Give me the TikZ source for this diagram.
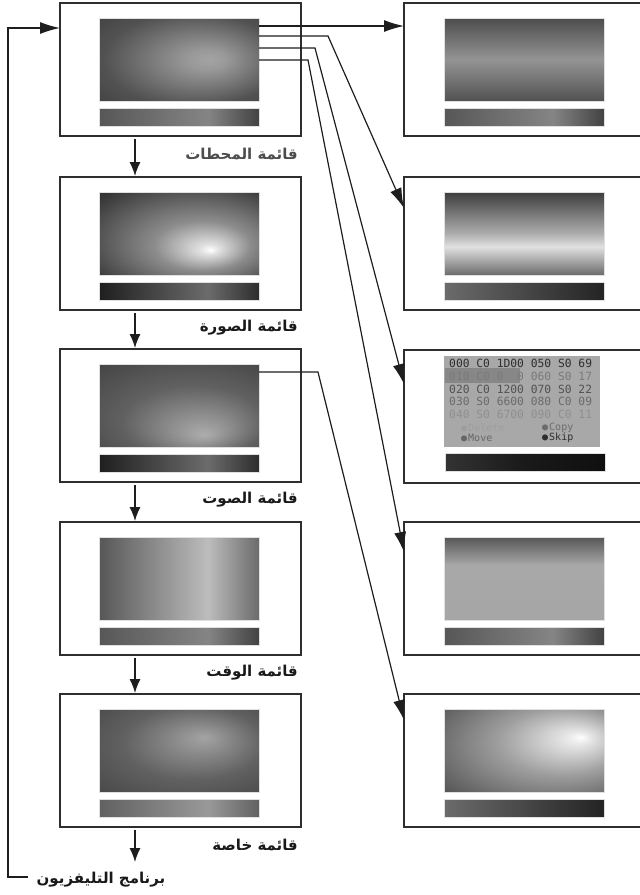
\documentclass[tikz,border=0pt]{standalone}
\usepackage{fontspec}
\usepackage{tikz}
\usetikzlibrary{arrows.meta,calc,positioning}
\TeXXeTstate=1
\newfontfamily\arabicfont[Script=Arabic]{DejaVu Sans}
\newfontfamily\monofont{DejaVu Sans Mono}

\definecolor{edge}{HTML}{2E2E2E}
\definecolor{wire}{HTML}{1E1E1E}

% screen shadings (the path covers the middle 50bp of each shading)
\pgfdeclareradialshading{glowA}{\pgfpoint{10bp}{0bp}}{color(0bp)=(black!36); color(6bp)=(black!40); color(28bp)=(black!68); color(50bp)=(black!80)}
\pgfdeclareradialshading{glowB}{\pgfpoint{10bp}{-10bp}}{color(0bp)=(white); color(3bp)=(black!12); color(15bp)=(black!45); color(38bp)=(black!80); color(55bp)=(black!82)}
\pgfdeclareradialshading{glowC}{\pgfpoint{8bp}{-18bp}}{color(0bp)=(black!32); color(22bp)=(black!62); color(50bp)=(black!80)}
\pgfdeclarehorizontalshading{bandD}{100bp}{color(0bp)=(black!66); color(25bp)=(black!66); color(59bp)=(black!26); color(75bp)=(black!58); color(100bp)=(black!58)}
\pgfdeclareradialshading{glowE}{\pgfpoint{8bp}{8bp}}{color(0bp)=(black!36); color(22bp)=(black!62); color(50bp)=(black!78)}
\pgfdeclareverticalshading{bandT}{100bp}{color(0bp)=(black!68); color(25bp)=(black!68); color(50bp)=(black!42); color(75bp)=(black!70); color(100bp)=(black!70)}
\pgfdeclareverticalshading{bandF}{100bp}{color(0bp)=(black!58); color(25bp)=(black!58); color(42bp)=(black!12); color(50bp)=(black!32); color(75bp)=(black!76); color(100bp)=(black!76)}
\pgfdeclareverticalshading{flatG}{100bp}{color(0bp)=(black!36); color(58bp)=(black!34); color(75bp)=(black!66); color(100bp)=(black!66)}
\pgfdeclareradialshading{glowH}{\pgfpoint{18bp}{8bp}}{color(0bp)=(white); color(3bp)=(black!8); color(20bp)=(black!38); color(45bp)=(black!72); color(60bp)=(black!75)}
% strip shadings
\pgfdeclarehorizontalshading{stripA}{100bp}{color(0bp)=(black!66); color(25bp)=(black!66); color(59bp)=(black!48); color(75bp)=(black!74); color(100bp)=(black!74)}
\pgfdeclarehorizontalshading{stripB}{100bp}{color(0bp)=(black!88); color(25bp)=(black!88); color(59bp)=(black!58); color(75bp)=(black!82); color(100bp)=(black!82)}
\pgfdeclarehorizontalshading{stripL}{100bp}{color(0bp)=(black!62); color(25bp)=(black!62); color(59bp)=(black!40); color(75bp)=(black!62); color(100bp)=(black!62)}
\pgfdeclarehorizontalshading{stripC}{100bp}{color(0bp)=(black!58); color(25bp)=(black!58); color(75bp)=(black!86); color(100bp)=(black!86)}
\pgfdeclarehorizontalshading{stripD}{100bp}{color(0bp)=(black!80); color(25bp)=(black!80); color(50bp)=(black!90); color(75bp)=(black!94); color(100bp)=(black!94)}

\tikzset{
  panel/.style={draw=edge, line width=1.5pt, fill=white, minimum width=241pt,
    minimum height=133pt, inner sep=0pt, outer sep=0pt, anchor=north west},
  screen/.style={shade, draw=black!12, line width=0.4pt, minimum width=160pt,
    minimum height=83pt, inner sep=0pt, outer sep=0pt, anchor=north west},
  strip/.style={screen, minimum height=18pt},
  menu/.style={font=\arabicfont\bfseries\fontsize{15}{16}\selectfont, anchor=east, inner sep=1pt},
  row/.style={font=\monofont\fontsize{11.3}{12}\selectfont, anchor=west, inner sep=0pt},
  key/.style={font=\monofont\fontsize{10}{11}\selectfont, anchor=west, inner sep=0pt},
  wire/.style={draw=wire, line width=1.2pt, -{Latex[length=20pt,width=12pt]}},
  drop/.style={wire, -{Latex[length=14pt,width=11pt]}}
}

\begin{document}
\begin{tikzpicture}[x=1pt,y=-1pt]
\useasboundingbox (0,0) rectangle (640,895);
\clip (0,0) rectangle (640,895);

% left column: the menus
\foreach \i/\y/\sh/\st/\c/\txt in {1/3/glowA/stripA/black!70/قائمة المحطات,
  2/177/glowB/stripB/black!90/قائمة الصورة,
  3/349/glowC/stripB/black!90/قائمة الصوت,
  4/522/bandD/stripA/black!90/قائمة الوقت,
  5/694/glowE/stripL/black!90/قائمة خاصة}{
\node[panel] (L\i) at (60,\y) {};
\node[screen, shading=\sh] (S\i) at ($(L\i.north west)+(39,15)$) {};
\node[strip, shading=\st] (B\i) at ($(L\i.north west)+(39,105)$) {};
\node[menu, text=\c] (M\i) at ($(L\i.south east)+(-2,18)$) {\beginR\txt\endR};
}
\foreach \i [count=\j from 2] in {1,...,4}
  \draw[drop] ($(L\i.south west)+(75,3)$) -- ($(L\j.north west)+(75,-1)$);

% right column: the sub menus
\foreach \i/\y in {1/3,2/177,3/350,4/522,5/694}
  \node[panel, minimum width=245pt] (R\i) at (404,\y) {};
\foreach \i/\sh/\st in {1/bandT/stripA,2/bandF/stripC,4/flatG/stripA,5/glowH/stripC}{
\node[screen, shading=\sh] (T\i) at ($(R\i.north west)+(40,15)$) {};
\node[strip, shading=\st] (U\i) at ($(R\i.north west)+(40,105)$) {};
}

% channel table
\node[fill=black!34, minimum width=156pt, minimum height=91pt, inner sep=0pt, anchor=north west] (T3) at ($(R3.north west)+(40,6)$) {};
\node[fill=black!47, minimum width=75pt, minimum height=15pt, inner sep=0pt, anchor=north west] (hl) at ($(T3.north west)+(1,12)$) {};
\node[strip, shading=stripD] (U3) at ($(R3.north west)+(41,103)$) {};
\foreach \r/\yy/\c/\t in {1/363/black!82/{000 C0 1D00 050 S0 69},
  2/376/black!52/{010 C0 0\phantom{00}0 060 S0 17},
  3/389/black!68/{020 C0 1200 070 S0 22},
  4/401/black!58/{030 S0 6600 080 C0 09},
  5/414/black!44/{040 S0 6700 090 C0 11}}
  \node[row, text=\c] (row\r) at (449,\yy) {\t};
\node[key, text=black!38] (del) at (461,428) {●\kern1pt Delete};
\node[key, text=black!58] (cpy) at (542,428) {●\kern1pt Copy};
\node[key, text=black!60] (mov) at (461,438) {●\kern1pt Move};
\node[key, text=black!82] (skp) at (542,438) {●\kern1pt Skip};

% links to the sub menus
\draw[wire] ($(S1.north east)+(0,8)$) -- ($(R1.north west)+(0,23)$);
\draw[wire] ($(S1.north east)+(0,18)$) -- ++(69,0) -- ($(R2.north west)+(0,31)$);
\draw[wire] ($(S1.north east)+(0,30)$) -- ++(56,0) -- ($(R3.north west)+(0,34)$);
\draw[wire] ($(S1.north east)+(0,42)$) -- ++(49,0) -- ($(R4.north west)+(0,30)$);
\draw[wire] ($(S3.north east)+(0,8)$) -- ++(59,0) -- ($(R5.north west)+(0,26)$);

% back to the programme
\node[menu, anchor=center, text=black!90] (tv) at (101,880) {\beginR برنامج التليفزيون\endR};
\coordinate (tvtop) at (135,862);
\coordinate (back) at (8,28);
\draw[drop] ($(L5.south west)+(75,3)$) -- (tvtop);
\draw[wire] ([xshift=-7pt,yshift=3pt]tv.west) -| (back) -- (back -| L1.west);
\end{tikzpicture}
\end{document}
